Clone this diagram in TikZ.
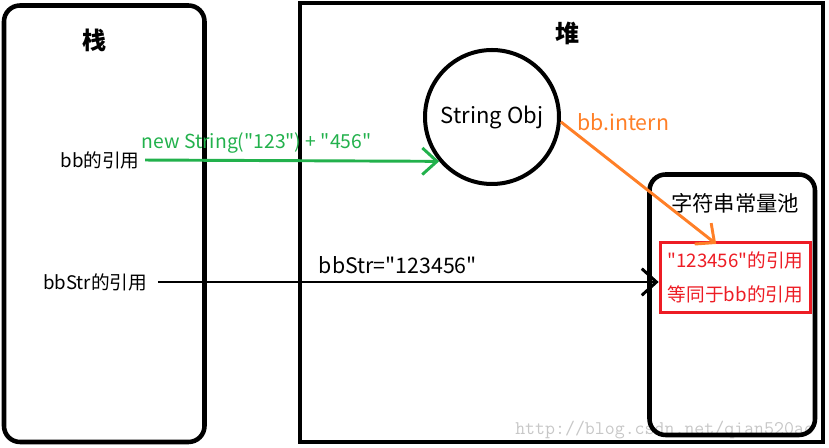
\documentclass[tikz,border=0pt]{standalone}
\usepackage{fontspec}
\newfontfamily\yahei{Noto Sans CJK SC}
\usepackage{xcolor}
\usepackage{tikz}
\usetikzlibrary{arrows.meta}
\usetikzlibrary{positioning}
\usetikzlibrary{shapes.geometric}
\tikzset{>=latex}
\definecolor{paintgreen}{RGB}{34,177,76}
\definecolor{paintorange}{RGB}{255,127,39}
\definecolor{paintred}{RGB}{237,28,36}
\tikzstyle{area} = [draw, line width=3.4pt]
\tikzstyle{txt} = [draw=none, inner sep=0, font=\fontsize{14}{16}\selectfont]
\tikzstyle{bigtxt} = [draw=none, inner sep=0, font=\fontsize{16}{18}\selectfont]
\tikzstyle{title} = [draw=none, inner sep=0, font=\bfseries\fontsize{18}{20}\selectfont]
\tikzstyle{link} = [line width=2.2pt, -{Straight Barb[length=11pt,width=20pt]}]

\begin{document}
\yahei
\begin{tikzpicture}[x=0.75pt, y=-0.75pt]
\useasboundingbox (0,0) rectangle (829,448);
% watermark
\node [draw=none, inner sep=0, anchor=west, text=black!22, font=\ttfamily\fontsize{14.5}{16}\selectfont] (mark) at (515,430) {http://blog.csdn.net/qian520ao};
% stack, heap, pool
\draw [area, rounded corners=12pt] (4,5.5) rectangle (204.5,442);
\draw [area] (300,3) rectangle (823,442);
\draw [area, rounded corners=12pt] (649.5,174.5) rectangle (815,435);
\node [title] (stack) at (94,40) {栈};
\node [title] (heap) at (567,33) {堆};
\node [bigtxt] (pool) at (735,203) {字符串常量池};
% objects
\node [circle, draw, line width=3pt, minimum size=100.5pt, inner sep=0, font=\fontsize{16.5}{18}\selectfont] (obj) at (492,117) {String Obj};
\node [draw=paintred, line width=2.3pt, text=paintred, align=center, minimum width=113pt, minimum height=52pt, inner sep=0, font=\fontsize{14}{25.5}\selectfont] (strref) at (735.5,277.5) {"123456"的引用\\等同于bb的引用};
\node [txt] (bbref) at (100,160) {bb的引用};
\node [txt] (bbstrref) at (95,282) {bbStr的引用};
% references
\draw [link, draw=paintgreen, shorten <=4pt] (bbref.east) to node [txt, font=\fontsize{14.5}{16}\selectfont, pos=0.39, above=4pt, text=paintgreen] (newlbl) {new String("123") + "456"} (obj.220);
\draw [link, shorten <=8pt] (bbstrref.east) to node [bigtxt, pos=0.49, above=5pt] (strlbl) {bbStr="123456"} (bbstrref.east -| strref.west);
\draw [link, draw=paintorange] (obj.-4) to ([xshift=-14.5pt, yshift=-2pt]strref.north);
\node [bigtxt, right=12pt of obj, yshift=-3.75pt, text=paintorange] (internlbl) {bb.intern};
\end{tikzpicture}
\end{document}
